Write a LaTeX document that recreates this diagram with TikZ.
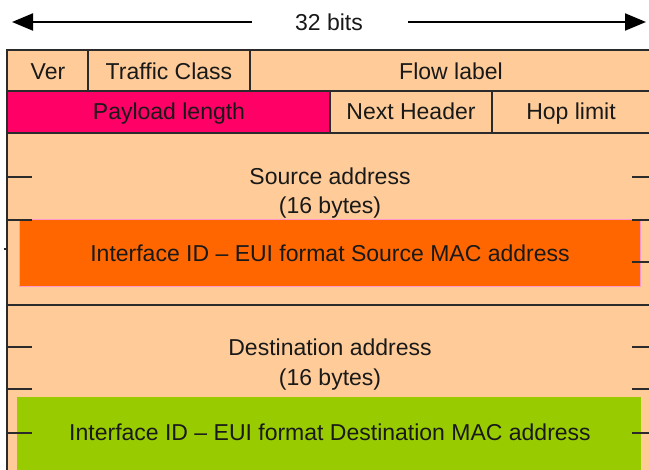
\documentclass[tikz,border=0pt]{standalone}
\usepackage{fontspec}
\setmainfont{Liberation Sans}
\usetikzlibrary{arrows.meta}
\definecolor{peach}{HTML}{FFCC99}
\definecolor{magentab}{HTML}{FF0066}
\definecolor{orangeb}{HTML}{FF6600}
\definecolor{pinkb}{HTML}{FF99CC}
\definecolor{greenb}{HTML}{99CC00}
\definecolor{linegray}{HTML}{2B2B2B}
\begin{document}
\begin{tikzpicture}[x=1pt,y=-1pt,line width=1.5pt,
  lbl/.style={font=\fontsize{23}{27}\selectfont, text=black!90, inner sep=0pt, text height=16.5pt, text depth=0pt},
  cell/.style={draw=linegray, fill=peach, anchor=north west, inner sep=0pt, outer sep=0pt},
  bar/.style={anchor=north west, inner sep=0pt, outer sep=0pt},
  tick/.style={draw=linegray, line width=1.5pt},
  bitarrow/.style={draw=black, line width=2pt, -{Triangle[length=21pt,width=17pt]}}]
\useasboundingbox (0,0) rectangle (649,470);
\fill[white] (0,0) rectangle (649,470);
% width arrow
\node[lbl] (bits) at (329,22) {32 bits};
\coordinate (lstart) at (252,22);
\coordinate (ltip) at (12,22);
\coordinate (rstart) at (408,22);
\coordinate (rtip) at (646,22);
\draw[bitarrow] (lstart) -- (ltip);
\draw[bitarrow] (rstart) -- (rtip);
% row 1
\node[cell, minimum width=81pt, minimum height=41pt] (ver) at (7,50) {};
\node[cell, minimum width=162pt, minimum height=41pt] (tc) at (88,50) {};
\node[cell, minimum width=402pt, minimum height=41pt] (fl) at (250,50) {};
% row 2
\node[cell, fill=magentab, minimum width=323pt, minimum height=42pt] (pl) at (7,91) {};
\node[cell, minimum width=162pt, minimum height=42pt] (nh) at (330,91) {};
\node[cell, minimum width=160pt, minimum height=42pt] (hl) at (492,91) {};
% address blocks
\node[cell, minimum width=645pt, minimum height=172pt] (src) at (7,133) {};
\node[cell, minimum width=645pt, minimum height=180pt] (dst) at (7,305) {};
\node[bar, fill=orangeb, draw=pinkb, line width=1pt, minimum width=621pt, minimum height=67pt] (srcmac) at (19,220) {};
\node[bar, fill=greenb, minimum width=624pt, minimum height=80pt] (dstmac) at (17,397) {};
% labels
\node[lbl] (vert) at (48,71) {Ver};
\node[lbl] (tct) at (169,71) {Traffic Class};
\node[lbl] (flt) at (451,71) {Flow label};
\node[lbl] (plt) at (169,111) {Payload length};
\node[lbl] (nht) at (411,111) {Next Header};
\node[lbl] (hlt) at (571,111) {Hop limit};
\node[lbl] (srct) at (330,176.5) {Source address};
\node[lbl] (srcb) at (330,205.5) {(16 bytes)};
\node[lbl] (srcm) at (330,253.5) {Interface ID – EUI format Source MAC address};
\node[lbl] (dstt) at (330,347) {Destination address};
\node[lbl] (dstb) at (330,377.5) {(16 bytes)};
\node[lbl] (dstm) at (330,432.5) {Interface ID – EUI format Destination MAC address};
% tick marks
\foreach \yy in {177,220,347,389,433} {
  \draw[tick] (7,\yy) -- (32,\yy);
}
\foreach \yy in {177,220,262,347,389,433} {
  \draw[tick] (632,\yy) -- (652,\yy);
}
\draw[tick] (3.5,249) -- (7,249);
\end{tikzpicture}
\end{document}
